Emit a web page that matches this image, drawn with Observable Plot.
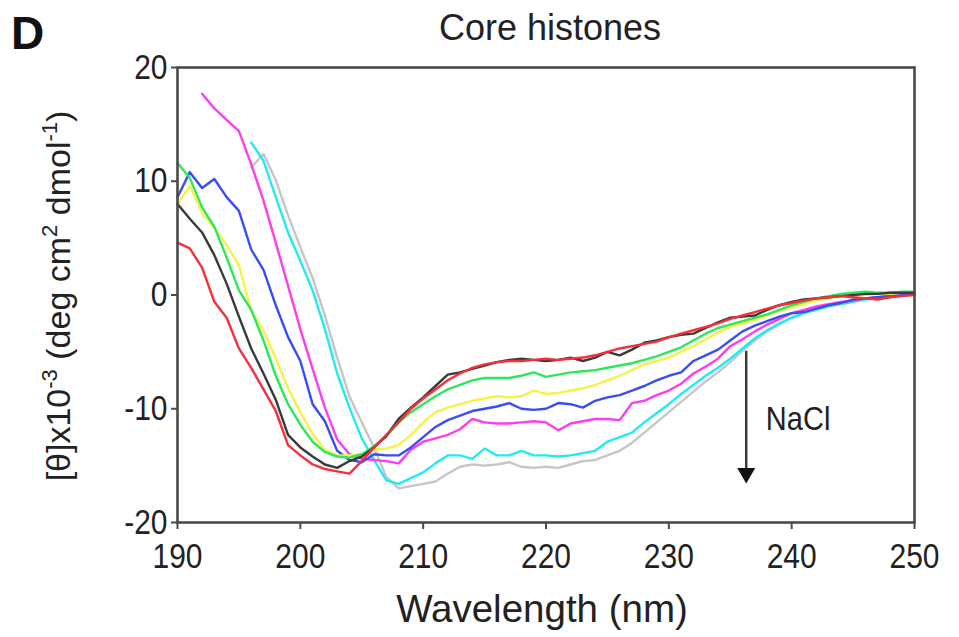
<!DOCTYPE html>
<html>
<head>
<meta charset="utf-8">
<script src="https://cdn.jsdelivr.net/npm/d3@7"></script>
<script src="https://cdn.jsdelivr.net/npm/@observablehq/plot@0.6"></script>
<style>
  html, body { margin: 0; padding: 0; background: #fff; }
  #chart svg { display: block; }
</style>
</head>
<body>
<div id="chart"></div>
<script>
// ---- data ----
const wavelengths = [190,191,192,193,194,195,196,197,198,199,200,201,202,203,204,205,206,207,208,209,210,211,212,213,214,215,216,217,218,219,220,221,222,223,224,225,226,227,228,229,230,231,232,233,234,235,236,237,238,239,240,241,242,243,244,245,246,247,248,249,250];

const red = [4.6,4.1,2.4,-0.6,-2.0,-4.7,-6.4,-8.3,-10.2,-13.2,
  -14.1,-14.9,-15.3,-15.5,-15.7,-14.6,-13.4,-12.3,-11.2,-10.0,
  -9.1,-8.3,-7.5,-6.9,-6.4,-6.1,-5.9,-5.8,-5.8,-5.7,
  -5.6,-5.7,-5.6,-5.5,-5.3,-5.0,-4.7,-4.5,-4.3,-4.1,
  -3.7,-3.4,-3.1,-2.8,-2.5,-2.1,-1.8,-1.5,-1.2,-0.9,
  -0.7,-0.5,-0.3,-0.2,-0.1,-0.2,-0.3,-0.4,-0.2,-0.1,0.0];

const black = [8.0,6.7,5.5,3.5,1.0,-1.9,-4.7,-6.9,-9.2,-12.3,
  -13.4,-14.2,-14.9,-15.2,-14.6,-14.2,-13.4,-12.4,-10.9,-9.9,
  -9.0,-8.0,-7.0,-6.8,-6.5,-6.2,-5.9,-5.7,-5.6,-5.7,
  -5.8,-5.7,-5.5,-5.8,-5.5,-5.0,-5.3,-4.8,-4.2,-4.0,
  -3.7,-3.5,-3.4,-2.9,-2.4,-2.0,-1.9,-1.8,-1.3,-0.9,
  -0.6,-0.4,-0.3,-0.2,-0.1,0.0,0.1,0.1,0.2,0.2,0.2];

const green = [11.6,10.3,7.7,6.0,3.3,0.4,-1.3,-4.0,-7.1,-9.6,
  -11.4,-12.9,-13.8,-14.2,-14.3,-14.0,-13.3,-12.4,-11.2,-10.3,
  -9.6,-8.9,-8.3,-7.9,-7.5,-7.3,-7.3,-7.3,-7.1,-6.8,
  -7.2,-7.0,-6.8,-6.7,-6.6,-6.4,-6.2,-6.0,-5.7,-5.4,
  -5.0,-4.6,-4.0,-3.4,-2.9,-2.6,-2.3,-2.0,-1.7,-1.3,
  -0.9,-0.6,-0.3,-0.1,0.1,0.2,0.3,0.2,0.2,0.3,0.3];

const yellow = [8.0,9.6,7.2,5.9,4.4,2.6,-1.4,-3.1,-5.6,-8.2,
  -10.3,-12.2,-13.6,-14.1,-14.1,-14.0,-13.6,-13.5,-13.2,-12.3,
  -11.2,-10.3,-9.9,-9.6,-9.3,-9.1,-8.9,-9.0,-8.9,-8.4,
  -8.7,-8.6,-8.4,-8.2,-7.9,-7.5,-7.1,-6.6,-6.1,-5.8,
  -5.5,-5.0,-4.5,-3.9,-3.3,-2.8,-2.5,-2.2,-1.8,-1.4,
  -1.1,-0.8,-0.5,-0.3,-0.1,0.0,0.0,0.1,0.1,0.2,0.2];

const blue = [8.6,10.8,9.4,10.2,8.6,7.4,4.0,2.2,-0.9,-3.7,
  -5.8,-9.6,-11.1,-13.7,-14.5,-14.7,-14.0,-14.1,-14.1,-13.4,
  -12.5,-11.6,-11.0,-10.6,-10.2,-10.0,-9.8,-9.5,-10.0,-10.1,
  -10.0,-9.5,-9.6,-9.9,-9.3,-9.0,-8.8,-8.4,-8.0,-7.5,
  -7.1,-6.8,-5.8,-5.3,-4.8,-4.0,-3.2,-2.7,-2.3,-1.9,
  -1.6,-1.5,-1.2,-0.9,-0.7,-0.4,-0.3,-0.2,-0.1,0.0,0.1];

const magenta = [null,null,17.7,16.4,15.4,14.4,11.5,8.3,4.6,0.8,
  -3.0,-6.5,-9.9,-12.7,-14.0,-14.4,-14.5,-14.6,-14.8,-13.6,
  -12.9,-12.6,-12.3,-11.8,-10.9,-11.2,-11.3,-11.3,-11.2,-11.1,
  -11.2,-11.9,-11.3,-11.1,-10.9,-10.9,-11.0,-9.5,-9.3,-8.8,
  -8.4,-7.8,-6.9,-6.3,-5.6,-4.5,-3.9,-3.2,-2.6,-2.1,
  -1.6,-1.3,-1.0,-0.8,-0.6,-0.5,-0.3,-0.2,-0.1,0.0,0.1];

const cyan = [null,null,null,null,null,null,13.4,11.8,8.6,5.5,
  3.0,0.4,-3.0,-6.9,-9.9,-12.6,-14.5,-16.3,-16.6,-16.1,
  -15.6,-14.8,-14.1,-14.1,-14.4,-13.5,-14.1,-14.1,-13.7,-14.1,
  -14.1,-14.2,-14.1,-13.9,-13.7,-12.9,-12.5,-12.1,-11.2,-10.4,
  -9.6,-8.7,-7.9,-7.1,-6.4,-5.6,-4.7,-3.8,-3.1,-2.5,
  -2.0,-1.6,-1.3,-1.0,-0.8,-0.6,-0.4,-0.3,-0.1,0.0,0.1];

const gray = [null,null,null,null,null,null,11.2,12.4,10.1,7.0,
  4.2,1.5,-1.8,-5.5,-8.9,-11.2,-13.4,-16.0,-17.0,-16.8,
  -16.6,-16.4,-15.7,-15.1,-14.9,-15.0,-14.9,-14.7,-15.1,-15.2,
  -15.1,-15.2,-14.9,-14.6,-14.5,-14.1,-13.7,-13.0,-12.1,-11.2,
  -10.3,-9.4,-8.5,-7.6,-6.8,-5.9,-4.9,-4.0,-3.2,-2.6,
  -2.0,-1.6,-1.2,-0.9,-0.7,-0.5,-0.3,-0.2,-0.1,0.0,0.1];

// drawing order (first drawn at the bottom); series ordered by NaCl concentration (s1 = lowest)
const seriesNames  = ["s8","s7","s6","s5","s4","s3","s2","s1"];
const seriesValues = [gray, cyan, magenta, blue, yellow, green, black, red];
const seriesColors = ["#c6c6c6","#22eaf5","#ff3cf0","#3a4cf5","#f7f247","#2ee85a","#3a3a3a","#f5303a"];

const xTicks = [190,200,210,220,230,240,250];
const yTicks = [-20,-10,0,10,20];

// NaCl annotation (data space)
const arrowX = [236.3];
const arrowTop = [-4.9];
const arrowBase = [-15.3];
const arrowTip = [-15.66];
const noteX = [237.9];
const noteY = [-10.9];
const noteText = ["NaCl"];

const titleText = "Core histones";
const panelLetter = "D";
const xLabel = "Wavelength (nm)";

// ---- build table ----
const rows = [];
seriesNames.forEach((name, i) => {
  wavelengths.forEach((w, j) => {
    rows.push({series: name, wavelength: w, theta: seriesValues[i][j]});
  });
});
const arrowRows = arrowX.map((x, i) => ({x, y1: arrowTop[i], y2: arrowBase[i], tip: arrowTip[i]}));
const noteRows = noteX.map((x, i) => ({x, y: noteY[i], text: noteText[i]}));

const FONT = "'Liberation Sans', Arial, Helvetica, sans-serif";

const chart = Plot.plot({
  width: 959,
  height: 637,
  marginLeft: 177,
  marginRight: 45,
  marginTop: 67,
  marginBottom: 115,
  style: {fontFamily: FONT, fontSize: "30px", color: "#222", background: "#fff"},
  x: {domain: [190, 250], ticks: xTicks, label: null},
  y: {domain: [-20, 20], ticks: yTicks, label: null},
  color: {type: "ordinal", domain: seriesNames, range: seriesColors},
  marks: [
    Plot.line(rows, {x: "wavelength", y: "theta", z: "series", stroke: "series", strokeWidth: 2.4, curve: "linear"}),
    Plot.link(arrowRows, {x1: "x", x2: "x", y1: "y1", y2: "y2", stroke: "#3c3c3c", strokeWidth: 2.5}),
    Plot.dot(arrowRows, {x: "x", y: "tip", symbol: "triangle", rotate: 180, r: 6.7, fill: "#111", stroke: "none"}),
    Plot.text(noteRows, {x: "x", y: "y", text: "text", textAnchor: "start", lineAnchor: "middle", fontSize: 29, fill: "#222"}),
    Plot.frame({stroke: "#4a4a4a", strokeWidth: 2.6}),
    Plot.axisX({ticks: xTicks, tickFormat: d => String(d), tickSize: 7, tickPadding: 14, fontSize: 30, stroke: "#4a4a4a", strokeWidth: 2, label: null}),
    Plot.axisY({ticks: yTicks, tickFormat: d => String(d), tickSize: 6, tickPadding: 4, fontSize: 30, stroke: "#4a4a4a", strokeWidth: 2, label: null})
  ]
});

document.getElementById("chart").appendChild(chart);

const svg = d3.select(chart);

// slight vertical stretch of tick labels, as in the reference
svg.selectAll("g[aria-label='x-axis tick label'] text, g[aria-label='y-axis tick label'] text, g[aria-label='text'] text")
  .each(function() {
    const t = this.getAttribute("transform") || "";
    this.setAttribute("transform", t + " scale(1,1.15)");
  });

// panel letter
svg.append("text")
  .attr("x", 11).attr("y", 49)
  .attr("text-anchor", "start")
  .attr("font-family", FONT).attr("font-weight", "bold").attr("font-size", 46)
  .attr("fill", "#111")
  .text(panelLetter);

// title
svg.append("text")
  .attr("x", 550).attr("y", 40)
  .attr("text-anchor", "middle")
  .attr("font-family", FONT).attr("font-size", 36)
  .attr("fill", "#222")
  .text(titleText);

// x label
svg.append("text")
  .attr("x", 542).attr("y", 622)
  .attr("text-anchor", "middle")
  .attr("font-family", FONT).attr("font-size", 38.5)
  .attr("fill", "#222")
  .text(xLabel);

// y label with superscripts
const yl = svg.append("text")
  .attr("transform", "translate(70,296) rotate(-90)")
  .attr("text-anchor", "middle")
  .attr("font-family", FONT).attr("font-size", 34)
  .attr("fill", "#222");
yl.append("tspan").text("[θ]x10");
yl.append("tspan").attr("dy", -13).attr("font-size", 22).text("-3");
yl.append("tspan").attr("dy", 13).text(" (deg cm");
yl.append("tspan").attr("dy", -13).attr("font-size", 22).text("2");
yl.append("tspan").attr("dy", 13).text(" dmol");
yl.append("tspan").attr("dy", -13).attr("font-size", 22).text("-1");
yl.append("tspan").attr("dy", 13).text(")");
</script>
</body>
</html>
